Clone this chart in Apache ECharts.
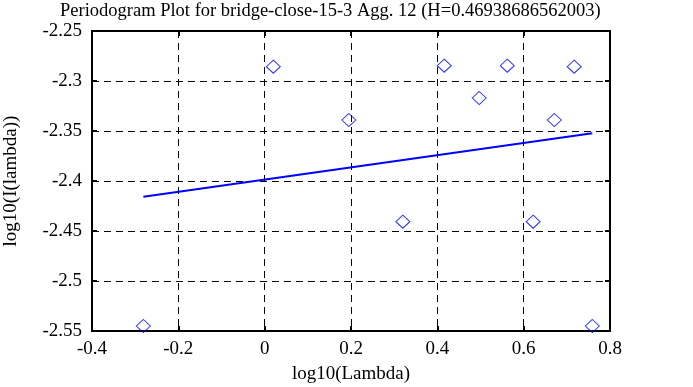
<!DOCTYPE html>
<html><head><meta charset="utf-8">
<script src="https://cdn.jsdelivr.net/npm/echarts@6/dist/echarts.min.js"></script>
<style>html,body{margin:0;padding:0;background:#fff}#c{width:693px;height:387px}</style>
</head><body><div id="c"></div>
<script>
const titleText = 'Periodogram Plot for bridge-close-15-3 Agg. 12 (H=0.46938686562003)';
const xName = 'log10(Lambda)';
const yName = 'log10(I(lambda))';
const xTicks = [-0.4, -0.2, 0, 0.2, 0.4, 0.6, 0.8];
const yTicks = [-2.55, -2.5, -2.45, -2.4, -2.35, -2.3, -2.25];
const pointX = [-0.281, 0.020, 0.195, 0.320, 0.416, 0.497, 0.562, 0.622, 0.671, 0.717, 0.759];
const pointY = [-2.545, -2.2857, -2.339, -2.4407, -2.2847, -2.317, -2.2847, -2.4407, -2.339, -2.2857, -2.545];
const fitX = [-0.281, 0.759];
const fitY = [-2.4157, -2.3523];

const font = 'Liberation Serif';
const chart = echarts.init(document.getElementById('c'), null, {renderer: 'canvas'});
chart.setOption({
  animation: false,
  backgroundColor: '#fff',
  title: {text: titleText, left: 60, top: 2, padding: 0,
    textStyle: {fontFamily: font, fontSize: 18.5, fontWeight: 'normal', color: '#000'}},
  grid: {left: 92, top: 31, width: 518, height: 300, show: true, borderColor: '#000', borderWidth: 2,
    backgroundColor: 'transparent', containLabel: false, outerBoundsMode: 'none'},
  xAxis: [{
    type: 'value', min: xTicks[0], max: xTicks[xTicks.length-1], interval: 0.2,
    name: xName, nameLocation: 'middle', nameGap: 34,
    nameTextStyle: {fontFamily: font, fontSize: 19, color: '#000'},
    axisLine: {show: true, onZero: false, lineStyle: {color: '#000', width: 2}},
    axisTick: {show: true, inside: true, length: 5, lineStyle: {color: '#000', width: 2}},
    axisLabel: {fontFamily: font, fontSize: 19, color: '#000', margin: 9,
      formatter: v => String(Math.round(v*10)/10)},
    splitLine: {show: true, lineStyle: {color: '#000', type: [7, 5], width: 1}}
  }, {
    type: 'value', position: 'top', min: xTicks[0], max: xTicks[xTicks.length-1], interval: 0.2,
    axisLine: {show: false, onZero: false}, axisLabel: {show: false}, splitLine: {show: false},
    axisTick: {show: true, inside: true, length: 5, lineStyle: {color: '#000', width: 2}}
  }],
  yAxis: [{
    type: 'value', min: yTicks[0], max: yTicks[yTicks.length-1], interval: 0.05,
    name: yName, nameLocation: 'middle', nameGap: 71,
    nameTextStyle: {fontFamily: font, fontSize: 19, color: '#000'},
    axisLine: {show: true, onZero: false, lineStyle: {color: '#000', width: 2}},
    axisTick: {show: true, inside: true, length: 5, lineStyle: {color: '#000', width: 2}},
    axisLabel: {fontFamily: font, fontSize: 19, color: '#000', margin: 10,
      formatter: v => String(Math.round(v*100)/100)},
    splitLine: {show: true, lineStyle: {color: '#000', type: [7, 5], width: 1}}
  }, {
    type: 'value', position: 'right', min: yTicks[0], max: yTicks[yTicks.length-1], interval: 0.05,
    axisLine: {show: false, onZero: false}, axisLabel: {show: false}, splitLine: {show: false},
    axisTick: {show: true, inside: true, length: 5, lineStyle: {color: '#000', width: 2}}
  }],
  series: [{
    type: 'scatter', xAxisIndex: 0, yAxisIndex: 0,
    data: pointX.map((x, i) => [x, pointY[i]]),
    symbol: 'diamond', symbolSize: [14, 13],
    itemStyle: {color: 'rgba(0,0,0,0)', borderColor: '#0000ff', borderWidth: 1}
  }, {
    type: 'line', xAxisIndex: 0, yAxisIndex: 0,
    data: fitX.map((x, i) => [x, fitY[i]]),
    symbol: 'none', lineStyle: {color: '#0000ff', width: 2}
  }]
});
</script></body></html>
